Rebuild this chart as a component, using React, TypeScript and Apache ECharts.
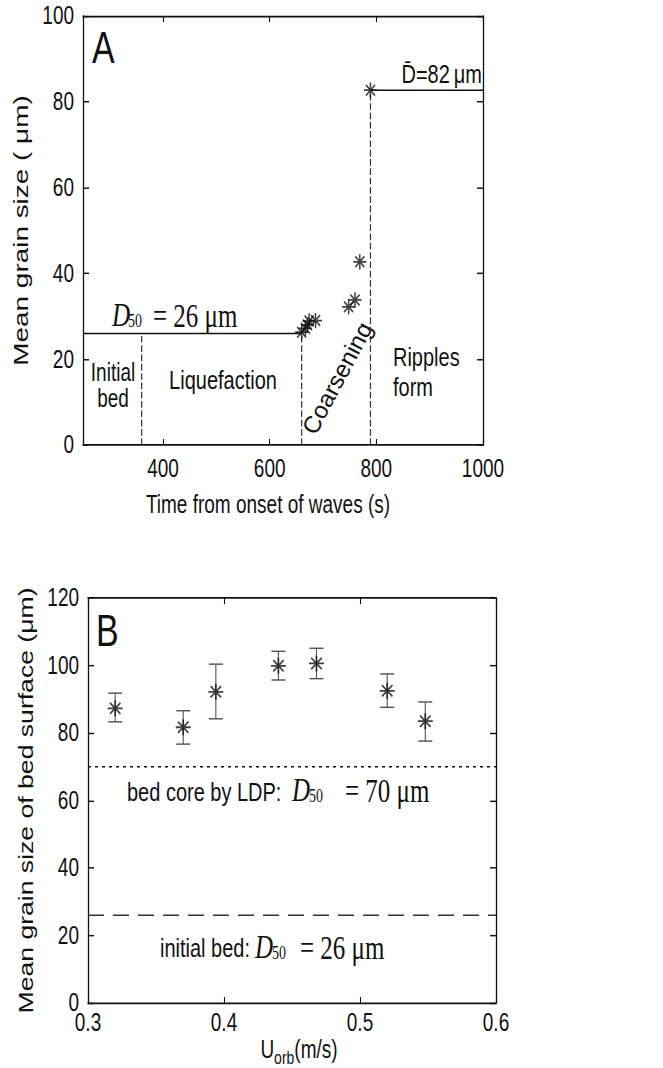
import React, { useEffect, useRef } from "react";
import * as echarts from "echarts";

// ---------- Panel A data ----------
const timeA = [660, 667, 671, 674, 686, 748, 760, 769, 789];
const grainA = [26.3, 27.2, 28.0, 28.9, 29.0, 32.2, 33.8, 42.7, 82.7];
const xTicksA = [400, 600, 800, 1000];
const timeMinA = 250;
const timeMaxA = 1000;
const initialD50 = 26;
const liquefactionStart = 360;
const coarseningStart = 660;
const ripplesStart = 789;
const ripplesD = 82.7;

// ---------- Panel B data ----------
const uorb = [0.32, 0.37, 0.394, 0.44, 0.468, 0.52, 0.548];
const grainB = [87.3, 81.7, 92.2, 99.9, 100.6, 92.5, 83.5];
const errLowB = [83.3, 76.7, 84.2, 95.7, 96.1, 87.6, 77.6];
const errHighB = [91.8, 86.6, 100.4, 104.2, 105.1, 97.5, 89.2];
const bedCoreD50 = 70;
const uMin = 0.3;
const uMax = 0.6;

// The reference figure is stretched vertically; reproduce that with a CSS scaleY.
const S = 1.33;
const W = 663;
const H = 1068;
const ry = (v: number) => v / S;

const SANS = '"Liberation Sans", Arial, Helvetica, sans-serif';
const SERIF = '"Liberation Serif", "Times New Roman", serif';
const INK = "#111";
const STAR = "path://M10,0L10,20M0,10L20,10M3,3L17,17M3,17L17,3";

const axisLine = { show: true, onZero: false, lineStyle: { color: INK, width: 1.3 } };
const tickStyle = { color: INK, width: 1.1 };
const labelStyle = { fontSize: 19, color: INK, fontFamily: SANS };

function txt(text: string, x: number, y: number, size: number, o: any = {}) {
  const align = o.align || "left";
  const va = o.va || "middle";
  return {
    type: "text",
    x,
    y,
    rotation: o.rotation || 0,
    silent: true,
    style: {
      text,
      fill: INK,
      fontSize: size,
      fontFamily: o.family || SANS,
      fontStyle: o.fontStyle || "normal",
      align,
      verticalAlign: va,
      textAlign: align,
      textVerticalAlign: va,
      lineHeight: o.lineHeight,
    },
  };
}

// D50 label: italic D, subscript 50, then "= nn μm" (reference pixel coordinates)
function d50(x: number, yRef: number, eqText: string, subX: number, eqX: number) {
  return [
    txt("D", x, ry(yRef), 25, { family: SERIF, fontStyle: "italic" }),
    txt("50", subX, ry(yRef + 6), 14, { family: SERIF }),
    txt(eqText, eqX, ry(yRef + 1), 25, { family: SERIF }),
  ];
}

export default function App() {
  const ref = useRef<HTMLDivElement>(null);

  useEffect(() => {
    if (!ref.current) return;
    const chart = echarts.init(ref.current, undefined, { renderer: "svg" });

    const starsA = timeA.map((t, i) => [t, grainA[i]]);
    const starsB = uorb.map((u, i) => [u, grainB[i]]);
    const errB = uorb.map((u, i) => [u, errLowB[i], errHighB[i]]);

    const lineSeries = (data: number[][], xi: number, type: any, color = INK, width = 1.2) => ({
      type: "line",
      xAxisIndex: xi,
      yAxisIndex: xi,
      data,
      showSymbol: false,
      symbol: "none",
      silent: true,
      lineStyle: { color, width, type },
      z: 1,
    });

    const xTick = { show: true, inside: true, length: 4.5, lineStyle: tickStyle };
    const yTick = { show: true, inside: true, length: 6, lineStyle: tickStyle };

    const option: any = {
      animation: false,
      backgroundColor: "#fff",
      textStyle: { fontFamily: SANS },
      grid: [
        { left: 83, top: ry(16), width: 400, height: ry(429) },
        { left: 88, top: ry(598), width: 408, height: ry(408) },
      ],
      xAxis: [
        {
          gridIndex: 0,
          type: "value",
          min: timeMinA,
          max: timeMaxA,
          position: "bottom",
          axisLine,
          axisTick: { ...xTick, customValues: xTicksA },
          axisLabel: { ...labelStyle, customValues: xTicksA, margin: 8, formatter: (v: number) => String(v) },
          splitLine: { show: false },
          name: "Time from onset of waves (s)",
          nameLocation: "middle",
          nameGap: 35,
          nameTextStyle: { fontSize: 19, color: INK, fontFamily: SANS, padding: [0, 30, 0, 0] },
        },
        {
          gridIndex: 0,
          type: "value",
          min: timeMinA,
          max: timeMaxA,
          position: "top",
          axisLine,
          axisTick: { ...xTick, customValues: xTicksA },
          axisLabel: { show: false },
          splitLine: { show: false },
        },
        {
          gridIndex: 1,
          type: "value",
          min: uMin,
          max: uMax,
          interval: 0.1,
          position: "bottom",
          axisLine,
          axisTick: xTick,
          axisLabel: { ...labelStyle, margin: 5.5, formatter: (v: number) => v.toFixed(1) },
          splitLine: { show: false },
          name: "{u|U}{s|orb}{n|(m/s)}",
          nameLocation: "middle",
          nameGap: 21,
          nameTextStyle: {
            color: INK,
            fontFamily: SANS,
            padding: [0, 0, 0, 14],
            rich: {
              u: { fontSize: 19, lineHeight: 26, fontFamily: SANS, color: INK },
              s: { fontSize: 14, lineHeight: 10, verticalAlign: "bottom", fontFamily: SANS, color: INK },
              n: { fontSize: 19, lineHeight: 26, fontFamily: SANS, color: INK },
            },
          },
        },
        {
          gridIndex: 1,
          type: "value",
          min: uMin,
          max: uMax,
          interval: 0.1,
          position: "top",
          axisLine,
          axisTick: xTick,
          axisLabel: { show: false },
          splitLine: { show: false },
        },
      ],
      yAxis: [
        {
          gridIndex: 0,
          type: "value",
          min: 0,
          max: 100,
          interval: 20,
          position: "left",
          axisLine,
          axisTick: yTick,
          axisLabel: { ...labelStyle, margin: 9 },
          splitLine: { show: false },
          name: "Mean grain size ( μm)",
          nameLocation: "middle",
          nameGap: 52,
          nameTextStyle: { fontSize: 21, color: INK, fontFamily: SANS },
        },
        {
          gridIndex: 0,
          type: "value",
          min: 0,
          max: 100,
          interval: 20,
          position: "right",
          axisLine,
          axisTick: yTick,
          axisLabel: { show: false },
          splitLine: { show: false },
        },
        {
          gridIndex: 1,
          type: "value",
          min: 0,
          max: 120,
          interval: 20,
          position: "left",
          axisLine,
          axisTick: yTick,
          axisLabel: { ...labelStyle, margin: 9 },
          splitLine: { show: false },
          name: "Mean grain size of bed surface (μm)",
          nameLocation: "middle",
          nameGap: 47,
          nameTextStyle: { fontSize: 20, color: INK, fontFamily: SANS },
        },
        {
          gridIndex: 1,
          type: "value",
          min: 0,
          max: 120,
          interval: 20,
          position: "right",
          axisLine,
          axisTick: yTick,
          axisLabel: { show: false },
          splitLine: { show: false },
        },
      ],
      series: [
        // Panel A reference lines
        lineSeries([[timeMinA, initialD50], [coarseningStart, initialD50]], 0, "solid", INK, 1.1),
        lineSeries([[liquefactionStart, 0], [liquefactionStart, initialD50]], 0, [5, 2], "#333"),
        lineSeries([[coarseningStart, 0], [coarseningStart, initialD50]], 0, [5, 2], "#333"),
        lineSeries([[ripplesStart, 0], [ripplesStart, ripplesD]], 0, [5, 2], "#333"),
        lineSeries([[ripplesStart, ripplesD], [timeMaxA, ripplesD]], 0, "solid", INK, 1.1),
        {
          type: "scatter",
          xAxisIndex: 0,
          yAxisIndex: 0,
          data: starsA,
          symbol: STAR,
          symbolSize: [13, 11.5],
          itemStyle: { color: "none", borderColor: INK, borderWidth: 1.4 },
          z: 3,
        },
        // Panel B reference lines
        lineSeries([[uMin, bedCoreD50], [uMax, bedCoreD50]], 2, [3, 4], INK, 1.1),
        lineSeries([[uMin, initialD50], [uMax, initialD50]], 2, [16, 9], "#333", 1.1),
        {
          type: "custom",
          xAxisIndex: 2,
          yAxisIndex: 2,
          data: errB,
          encode: { x: 0, y: [1, 2] },
          renderItem: (params: any, api: any) => {
            const x = api.value(0);
            const lo = api.coord([x, api.value(1)]);
            const hi = api.coord([x, api.value(2)]);
            const w = 7;
            const st = { stroke: "#555", lineWidth: 1.1 };
            return {
              type: "group",
              children: [
                { type: "line", shape: { x1: hi[0], y1: hi[1], x2: lo[0], y2: lo[1] }, style: st },
                { type: "line", shape: { x1: hi[0] - w, y1: hi[1], x2: hi[0] + w, y2: hi[1] }, style: st },
                { type: "line", shape: { x1: lo[0] - w, y1: lo[1], x2: lo[0] + w, y2: lo[1] }, style: st },
              ],
            };
          },
          z: 2,
        },
        {
          type: "scatter",
          xAxisIndex: 2,
          yAxisIndex: 2,
          data: starsB,
          symbol: STAR,
          symbolSize: [15, 12],
          itemStyle: { color: "none", borderColor: INK, borderWidth: 1.5 },
          z: 3,
        },
      ],
      graphic: [
        txt("A", 92, ry(47), 34),
        txt("B", 96, ry(630), 34),
        txt("D\u0304=82\u2009μm", 482, ry(74), 20, { align: "right" }),
        ...d50(112, 315, "= 26 μm", 128, 153),
        txt("Initial\nbed", 113, ry(386), 19, { align: "center", lineHeight: ry(26) }),
        txt("Liquefaction", 223, ry(380), 20, { align: "center" }),
        {
          type: "group",
          x: 337,
          y: ry(378),
          scaleY: 1 / S,
          silent: true,
          children: [txt("Coarsening", 0, 0, 24, { align: "center", rotation: (62 * Math.PI) / 180 })],
        },
        txt("Ripples\nform", 393, ry(372), 20, { lineHeight: ry(30) }),
        txt("bed core by LDP:", 127, ry(792), 20),
        ...d50(292, 790, "= 70 μm", 309, 345),
        txt("initial bed:", 160, ry(948), 20),
        ...d50(255, 947, "= 26 μm", 272, 300),
      ],
    };

    chart.setOption(option);
    return () => chart.dispose();
  }, []);

  return (
    <div style={{ position: "absolute", left: 0, top: 0, width: W, height: H, overflow: "hidden", background: "#fff" }}>
      <div
        ref={ref}
        style={{
          width: W,
          height: H / S,
          transform: `scaleY(${S})`,
          transformOrigin: "0 0",
          background: "#fff",
        }}
      />
    </div>
  );
}
